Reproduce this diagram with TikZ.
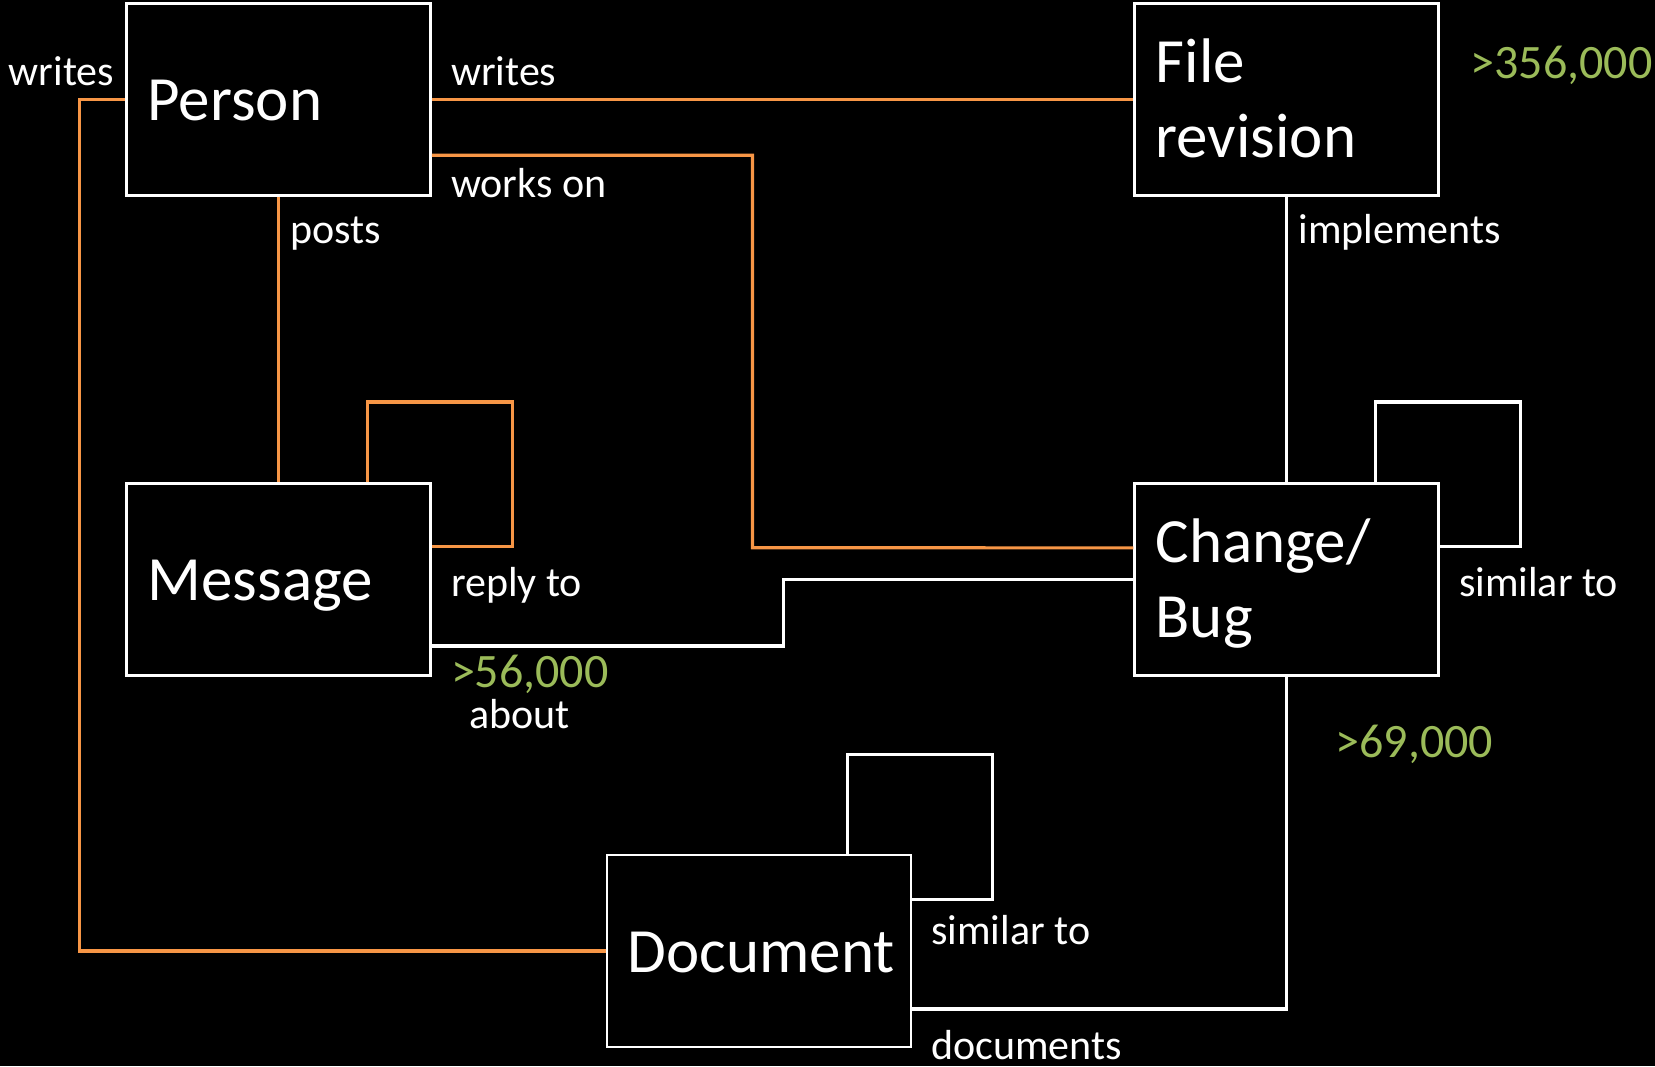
\documentclass[tikz,border=0pt]{standalone}
\usepackage{fontspec}
\setmainfont{Carlito}
\usepackage{xcolor}
\definecolor{accorange}{RGB}{247,150,70}
\definecolor{accgreen}{RGB}{155,187,89}

\begin{document}
\begin{tikzpicture}[x=0.5278pt,y=-0.5278pt,
	entity/.style={draw=white,line width=1.3pt,rectangle,minimum width=152pt,minimum height=96pt,inner xsep=10.5pt,inner ysep=0pt,text width=131pt,align=left,text height=21pt,text depth=0pt,text=white,font=\fontsize{31.5}{37.5}\selectfont},
	twolines/.style={text depth=37.5pt},
	oline/.style={accorange,line width=1.6pt},
	wline/.style={white,line width=1.6pt},
	rel/.style={anchor=base west,inner sep=0pt,text=white,font=\fontsize{21}{25}\selectfont},
	count/.style={anchor=base west,inner sep=0pt,text=accgreen,font=\fontsize{24}{28}\selectfont}]
		\path[use as bounding box,fill=black](0,0) rectangle (1568,1010);
		% entities
		\node[entity](person) at (264,94){Person};
		\node[entity,twolines](filerev) at (1219,94){File\\revision};
		\node[entity](message) at (264,549){Message};
		\node[entity,twolines](change) at (1219,549){Change/\\Bug};
		\node[entity](document) at (719,901){Document};
		% orange relations
		\draw[oline](person.east)--(filerev.west);
		\draw[oline]([yshift=-28pt]person.east)-|(713,519)--([yshift=15.8pt]change.west);
		\draw[oline](person.west)--(75,94)|-(document.west);
		\draw[oline](person.south)--(message.north);
		\draw[oline]([xshift=-32.2pt]message.north east)|-++(137,-76)|-([yshift=16.4pt]message.east);
		% white relations
		\draw[wline]([yshift=-33.3pt]message.east)-|(742,580)|-(change.west);
		\draw[wline](filerev.south)--(change.north);
		\draw[wline]([xshift=-32.2pt]change.north east)|-++(137,-76)|-([yshift=16.4pt]change.east);
		\draw[wline](change.south)|-([yshift=-29pt]document.east);
		\draw[wline]([xshift=-32.2pt]document.north east)|-++(137,-94)|-([yshift=25.9pt]document.east);
		% labels
		\node[rel](wrleft) at (8,81){writes};
		\node[rel](wrtop) at (427,81){writes};
		\node[rel](workson) at (427,187){works on};
		\node[rel](posts) at (275,231){posts};
		\node[rel](implements) at (1230,231){implements};
		\node[rel](replyto) at (427,565){reply to};
		\node[rel](about) at (444,690){about};
		\node[rel](simchange) at (1382,565){similar to};
		\node[rel](simdoc) at (882,895){similar to};
		\node[rel](documents) at (882,1004){documents};
		\node[count](nfile) at (1393,74){>356,000};
		\node[count](nmsg) at (427,651){>56,000};
		\node[count](nchange) at (1265,718){>69,000};
		\end{tikzpicture}
\end{document}
